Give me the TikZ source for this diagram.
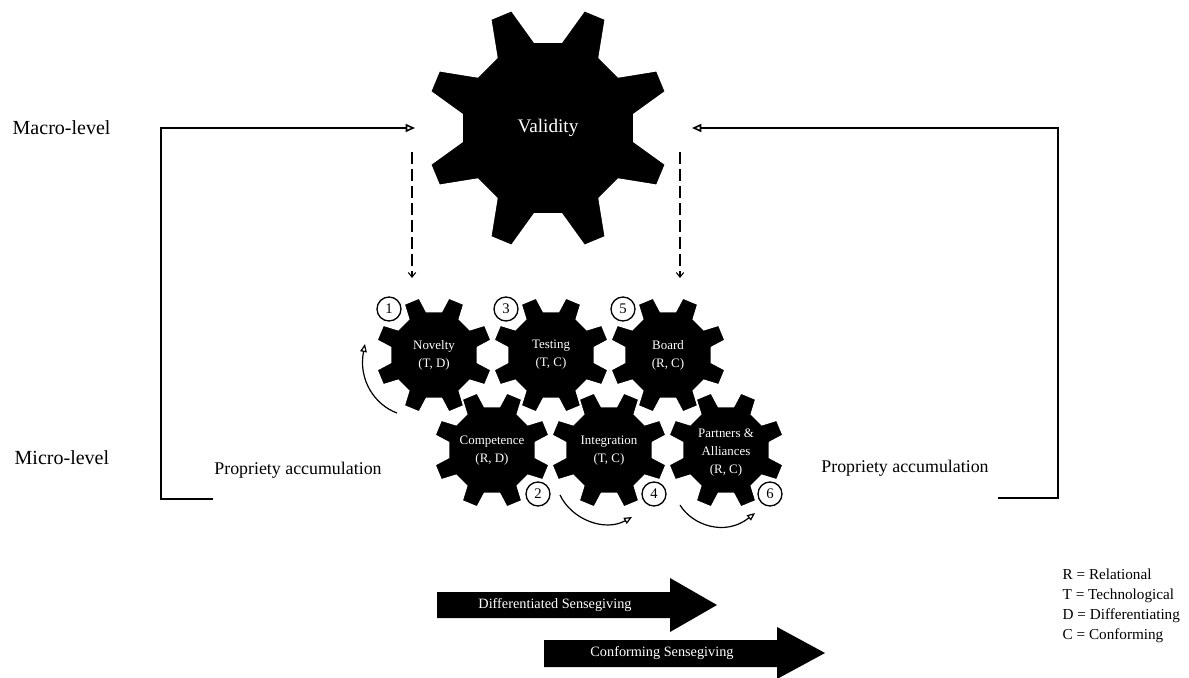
\documentclass[tikz,border=0pt]{standalone}
\usepackage{fontspec}
\setmainfont{Liberation Serif}
\usetikzlibrary{arrows.meta,positioning}

\begin{document}
\begin{tikzpicture}[
  x=0.75pt, y=-0.75pt,
  level/.style={anchor=west, font=\fontsize{15}{18}\selectfont},
  accum/.style={font=\fontsize{13.4}{16}\selectfont},
  cog/.style={fill=black, draw=white, line width=1.2pt},
  geartext/.style={text=white, align=center, font=\fontsize{9.7}{13.5}\selectfont},
  num/.style={circle, draw=black, fill=white, line width=1pt, inner sep=0pt, minimum size=18pt, font=\fontsize{11}{12}\selectfont},
  feedback/.style={line width=1.2pt, -{Triangle[open, length=7pt, width=6pt]}},
  influence/.style={line width=0.8pt, dash pattern=on 9pt off 3.75pt, -{Straight Barb[length=3.5pt, width=5.5pt]}},
  turn/.style={line width=0.9pt, -{Triangle[open, length=6pt, width=5pt]}},
  sense/.style={text=white, font=\fontsize{10.7}{12}\selectfont},
  legend/.style={anchor=west, align=left, font=\fontsize{11.4}{15}\selectfont},
]
\useasboundingbox (0,0) rectangle (1189,678);

% Macro level gear
\path[cog, shift={(548,128)}] (-9:87) \foreach \k in {0,...,7}{ -- ({22.5+45*\k-13.5}:87) -- ({22.5+45*\k-5.3}:123) -- ({22.5+45*\k+5.3}:123) -- ({22.5+45*\k+13.5}:87)} -- cycle;
\node[text=white, font=\fontsize{14.4}{16}\selectfont] (validity) at (548,128) {Validity};

% Micro level gears, top row then bottom row
\foreach \cx/\cy in {434/355, 551/355, 668/355, 492/450, 609/450, 726/450}
  \path[cog, shift={(\cx,\cy)}] (-10:44) \foreach \k in {0,...,7}{ -- ({22.5+45*\k-12.7}:44) -- ({22.5+45*\k-8}:59) -- ({22.5+45*\k+8}:59) -- ({22.5+45*\k+12.7}:44)} -- cycle;

\node[geartext] (novelty) at (434,355) {Novelty\\(T, D)};
\node[geartext] (testing) at (551,355) {Testing\\(T, C)};
\node[geartext] (board) at (668,355) {Board\\(R, C)};
\node[geartext] (competence) at (492,451) {Competence\\(R, D)};
\node[geartext] (integration) at (609,451) {Integration\\(T, C)};
\node[geartext] (partners) at (726,453) {Partners \&\\Alliances\\(R, C)};

% Sequence numbers
\node[num] (n1) at ([shift={(-45,-46)}]novelty.center) {1};
\node[num] (n3) at ([shift={(-45,-46)}]testing.center) {3};
\node[num] (n5) at ([shift={(-45,-46)}]board.center) {5};
\node[num] (n2) at (538,494) {2};
\node[num] (n4) at (654,494) {4};
\node[num] (n6) at (770,494) {6};

% Levels
\node[level] (macro) at (8,128) {Macro-level};
\node[level] (micro) at (10,458) {Micro-level};
\node[accum] (accleft) at (298,470) {Propriety accumulation};
\node[accum] (accright) at (905,468) {Propriety accumulation};

% Feedback loops
\coordinate (lb) at (213,499);
\coordinate (lt) at (415,128);
\coordinate (rb) at (998,498);
\coordinate (rt) at (692,128);
\draw[feedback] (lb) -- (161,499) |- (lt);
\draw[feedback] (rb) -- (1058,498) |- (rt);

% Top-down influence
\coordinate (dl1) at (412,152);
\coordinate (dl2) at (412,278);
\coordinate (dr1) at (680,152);
\coordinate (dr2) at (680,278);
\draw[influence] (dl1) -- (dl2);
\draw[influence] (dr1) -- (dr2);

% Rotation arrows
\coordinate (t1a) at (397,413);
\coordinate (t1b) at (365,344);
\coordinate (t2a) at (560,495);
\coordinate (t2b) at (632,517);
\coordinate (t3a) at (680,505);
\coordinate (t3b) at (755,513);
\draw[turn] (t1a) .. controls (375,405) and (358,380) .. (t1b);
\draw[turn] (t2a) .. controls (572,520) and (605,532) .. (t2b);
\draw[turn] (t3a) .. controls (692,525) and (725,537) .. (t3b);

% Sensegiving arrows
\fill (437,592) -- (670,592) -- (670,578) -- (717,605) -- (670,632) -- (670,618) -- (437,618) -- cycle;
\node[sense] (diff) at (555,605) {Differentiated Sensegiving};
\fill (544,640) -- (777,640) -- (777,627) -- (825,653) -- (777,679) -- (777,667) -- (544,667) -- cycle;
\node[sense] (conf) at (662,653) {Conforming Sensegiving};

% Legend
\node[legend] (key) at (1058,606) {R = Relational\\T = Technological\\D = Differentiating\\C = Conforming};

\end{tikzpicture}
\end{document}
